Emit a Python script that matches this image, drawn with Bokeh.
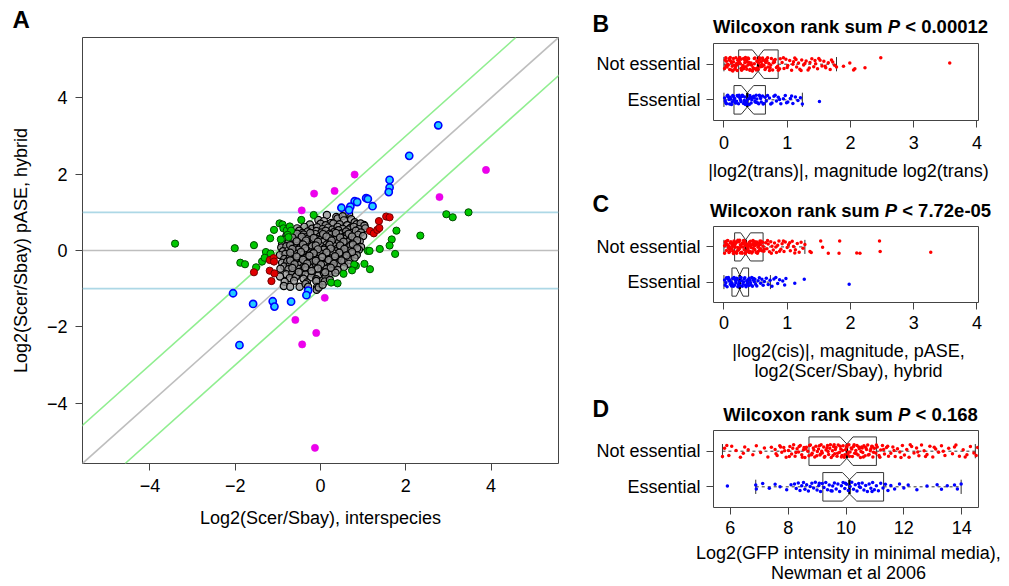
from bokeh.plotting import figure
from bokeh.layouts import row, column
from bokeh.models import Label, Slope, Span, FixedTicker, Range1d
from bokeh.embed import file_html
from bokeh.resources import INLINE

FONT = "Liberation Sans"

# ---------------- Panel A data: (interspecies log2, hybrid pASE log2) ----------------
gray_pts = [
    (0.15, 0.93), (0.37, 0.88), (0.40, 0.84), (0.67, 0.95), (0.57, 0.97), (0.52, 0.90),
    (-0.05, 0.80), (0.08, 0.77), (0.55, 0.79), (0.72, 0.82), (0.80, 0.74), (0.25, 0.72),
    (-0.25, 0.68), (0.00, 0.70), (0.12, 0.66), (0.30, 0.71), (0.45, 0.69), (0.62, 0.66),
    (0.85, 0.69), (0.95, 0.64), (1.02, 0.67), (0.70, 0.59), (0.94, 0.71), (1.03, 0.65),
    (-0.55, 0.58), (-0.38, 0.62), (-0.20, 0.57), (-0.08, 0.61), (0.05, 0.56), (0.18, 0.60),
    (0.28, 0.55), (0.40, 0.62), (0.52, 0.57), (0.66, 0.55), (0.78, 0.62), (0.90, 0.56),
    (1.05, 0.58), (-0.70, 0.48), (-0.50, 0.52), (-0.42, 0.46), (-0.30, 0.50), (-0.18, 0.45),
    (-0.10, 0.51), (0.02, 0.47), (0.12, 0.52), (0.22, 0.44), (0.33, 0.49), (0.42, 0.53),
    (0.50, 0.45), (0.60, 0.50), (0.72, 0.46), (0.83, 0.52), (0.95, 0.47), (-0.78, 0.52),
    (-0.80, 0.38), (-0.62, 0.41), (-0.52, 0.36), (-0.40, 0.42), (-0.33, 0.35), (-0.22, 0.39),
    (-0.12, 0.43), (-0.02, 0.37), (0.08, 0.40), (0.16, 0.34), (0.25, 0.41), (0.35, 0.37),
    (0.45, 0.43), (0.55, 0.36), (0.62, 0.40), (0.75, 0.35), (0.88, 0.41), (1.00, 0.38),
    (-0.85, 0.28), (-0.72, 0.31), (-0.60, 0.26), (-0.48, 0.32), (-0.40, 0.27), (-0.30, 0.30),
    (-0.20, 0.25), (-0.10, 0.31), (0.00, 0.28), (0.10, 0.24), (0.20, 0.32), (0.30, 0.27),
    (0.38, 0.30), (0.48, 0.25), (0.58, 0.31), (0.68, 0.27), (0.80, 0.29), (0.92, 0.24),
    (-0.90, 0.18), (-0.75, 0.21), (-0.65, 0.16), (-0.55, 0.22), (-0.45, 0.17), (-0.35, 0.20),
    (-0.26, 0.15), (-0.15, 0.21), (-0.05, 0.17), (0.05, 0.22), (0.15, 0.16), (0.25, 0.19),
    (0.33, 0.14), (0.43, 0.21), (0.52, 0.17), (0.62, 0.22), (0.72, 0.15), (0.85, 0.19),
    (-0.92, 0.08), (-0.80, 0.11), (-0.68, 0.06), (-0.58, 0.12), (-0.48, 0.07), (-0.40, 0.10),
    (-0.30, 0.05), (-0.20, 0.11), (-0.10, 0.07), (0.00, 0.12), (0.10, 0.06), (0.20, 0.09),
    (0.30, 0.13), (0.40, 0.05), (0.50, 0.10), (0.60, 0.07), (0.70, 0.12), (0.82, 0.06),
    (0.95, 0.09), (-0.88, -0.02), (-0.75, 0.01), (-0.62, -0.04), (-0.52, 0.02), (-0.42, -0.03),
    (-0.32, 0.00), (-0.22, -0.05), (-0.12, 0.01), (-0.02, -0.03), (0.08, 0.02), (0.18, -0.04),
    (0.28, 0.01), (0.38, -0.02), (0.48, 0.03), (0.58, -0.05), (0.70, 0.00), (0.80, -0.03),
    (0.90, 0.02), (-0.95, -0.12), (-0.82, -0.09), (-0.70, -0.14), (-0.60, -0.08), (-0.50, -0.13),
    (-0.40, -0.10), (-0.30, -0.15), (-0.20, -0.09), (-0.10, -0.12), (0.00, -0.08), (0.10, -0.14),
    (0.20, -0.11), (0.30, -0.07), (0.42, -0.13), (0.52, -0.10), (0.64, -0.15), (0.75, -0.09),
    (0.85, -0.12), (-0.85, -0.22), (-0.72, -0.19), (-0.62, -0.24), (-0.52, -0.18), (-0.44, -0.23),
    (-0.35, -0.20), (-0.25, -0.25), (-0.15, -0.19), (-0.05, -0.22), (0.05, -0.18), (0.15, -0.24),
    (0.25, -0.21), (0.36, -0.17), (0.46, -0.23), (0.58, -0.20), (0.68, -0.25), (0.80, -0.19),
    (-0.90, -0.32), (-0.78, -0.29), (-0.66, -0.34), (-0.55, -0.28), (-0.45, -0.33), (-0.36, -0.30),
    (-0.28, -0.35), (-0.18, -0.29), (-0.08, -0.32), (0.02, -0.28), (0.12, -0.34), (0.22, -0.31),
    (0.32, -0.27), (0.44, -0.33), (0.55, -0.30), (0.66, -0.35), (-0.85, -0.42), (-0.72, -0.39),
    (-0.60, -0.44), (-0.50, -0.38), (-0.40, -0.43), (-0.30, -0.40), (-0.20, -0.45), (-0.10, -0.39),
    (0.00, -0.42), (0.10, -0.38), (0.20, -0.44), (0.30, -0.41), (0.42, -0.37), (0.55, -0.43),
    (-0.94, -0.48), (-0.75, -0.49), (-0.62, -0.54), (-0.52, -0.48), (-0.42, -0.53), (-0.32, -0.50),
    (-0.22, -0.55), (-0.10, -0.49), (0.02, -0.52), (0.14, -0.48), (0.26, -0.54), (0.40, -0.51),
    (-0.80, -0.62), (-0.66, -0.59), (-0.55, -0.64), (-0.45, -0.58), (-0.35, -0.63), (-0.20, -0.60),
    (-0.05, -0.65), (0.08, -0.59), (0.20, -0.62), (0.35, -0.58), (-0.95, -0.68), (-0.72, -0.72),
    (-0.58, -0.69), (-0.40, -0.74), (-0.22, -0.70), (-0.10, -0.75), (0.06, -0.78), (0.12, -0.69),
    (-0.84, -0.82), (-0.62, -0.79), (-0.32, -0.84), (-0.10, -0.80), (0.10, -0.81), (0.22, -0.77),
    (-0.86, -0.93), (-0.71, -0.95), (-0.49, -0.95), (-0.35, -0.88), (-0.29, -0.95), (-0.08, -0.96),
    (-0.09, -1.03), (-0.04, -0.97), (0.05, -0.90),
    (-0.55, 0.44), (-0.24, 0.46), (0.06, 0.43), (0.36, 0.46), (0.66, 0.44), (-0.66, 0.34),
    (-0.44, 0.36), (-0.16, 0.33), (0.14, 0.37), (0.46, 0.34), (0.74, 0.37), (-0.56, 0.24),
    (-0.34, 0.26), (-0.06, 0.23), (0.26, 0.26), (0.54, 0.23), (0.86, 0.27), (-0.71, 0.14),
    (-0.41, 0.16), (-0.11, 0.13), (0.21, 0.15), (0.46, 0.13), (0.76, 0.16), (-0.66, 0.04),
    (-0.36, 0.06), (-0.06, 0.03), (0.24, 0.05), (0.56, 0.04), (0.86, 0.06), (-0.71, -0.06),
    (-0.46, -0.04), (-0.16, -0.07), (0.14, -0.05), (0.44, -0.06), (0.74, -0.04), (-0.56, -0.16),
    (-0.26, -0.14), (0.04, -0.17), (0.34, -0.15), (0.61, -0.13), (-0.71, -0.26), (-0.41, -0.24),
    (-0.11, -0.27), (0.19, -0.25), (0.49, -0.26), (-0.61, -0.36), (-0.31, -0.34), (0.01, -0.37),
    (0.31, -0.35), (-0.66, -0.46), (-0.36, -0.44), (-0.06, -0.47), (0.24, -0.45), (-0.51, -0.56),
    (-0.21, -0.54), (0.11, -0.57),
]
green_pts = [
    (-3.41, 0.18), (-2.01, 0.06), (-1.88, -0.32), (-1.77, -0.36), (-1.56, 0.14), (-1.51, -0.44),
    (-1.37, -0.29), (-1.28, -0.04), (-1.31, -0.19), (-1.17, -0.08), (-1.18, 0.32), (-1.09, 0.54),
    (-0.96, 0.71), (-0.89, 0.68), (-0.87, 0.58), (-0.93, 0.29), (-0.79, 0.53), (-0.72, 0.63),
    (-0.69, 0.52), (-0.77, 0.41), (-0.75, 0.35), (-0.45, 0.80), (-0.16, 0.93), (1.78, 0.52),
    (1.67, 0.29), (1.62, 0.13), (1.75, -0.09), (1.39, 0.04), (1.11, -0.01), (1.15, -0.01),
    (1.03, -0.35), (0.83, -0.40), (0.79, -0.37), (1.16, -0.49), (0.74, -0.52), (0.54, -0.61),
    (0.25, -0.84), (0.40, -0.86), (2.34, 0.39), (2.95, 0.95), (3.10, 0.87), (3.47, 1.00),
]
red_pts = [
    (1.16, 0.51), (1.25, 0.45), (1.33, 0.54), (1.38, 0.59), (1.37, 0.77), (1.54, 0.89),
    (1.62, 0.87), (-1.19, -0.25), (-1.10, -0.20), (-1.09, -0.29), (-1.19, -0.53), (-1.08, -0.60),
    (-1.15, -0.80), (-1.56, -0.57),
]
blue_pts = [
    (2.76, 3.28), (2.08, 2.48), (1.62, 1.85), (1.62, 1.65), (1.60, 1.53), (1.07, 1.37),
    (1.11, 1.35), (0.80, 1.29), (0.86, 1.27), (1.22, 1.16), (0.49, 1.12), (0.70, 1.15),
    (0.67, 1.06), (-2.05, -1.12), (-1.58, -1.40), (-1.12, -1.33), (-1.08, -1.47), (-0.69, -1.34),
    (-0.29, -1.05), (-0.33, -1.17), (-1.90, -2.48),
]
magenta_pts = [
    (0.80, 1.99), (-0.15, 1.49), (0.33, 1.56), (-0.44, 1.05), (3.88, 2.11), (2.79, 1.40),
    (0.10, -1.24), (-0.59, -1.82), (-0.10, -2.16), (-0.43, -2.46), (-0.13, -5.17),
]
A_ticks = [-4, -2, 0, 2, 4]
A_tick_labels = ["\u22124", "\u22122", "0", "2", "4"]
A_xlabel = "Log2(Scer/Sbay), interspecies"
A_ylabel = "Log2(Scer/Sbay) pASE, hybrid"

# ---------------- Panels B-D: (value, vertical jitter) ----------------
B_not_ess = [
    (0.02, 0.12), (0.05, -0.08), (0.03, 0.18), (0.09, -0.15), (0.12, 0.04), (0.07, -0.02), (0.15, 0.16),
    (0.18, -0.11), (0.11, 0.09), (0.21, -0.18), (0.24, 0.07), (0.19, -0.05), (0.27, 0.14), (0.31, -0.13),
    (0.26, 0.01), (0.34, 0.19), (0.29, -0.09), (0.37, 0.06), (0.41, -0.17), (0.33, 0.11), (0.44, -0.03),
    (0.39, 0.15), (0.47, -0.12), (0.52, 0.08), (0.45, -0.19), (0.55, 0.03), (0.49, 0.17), (0.58, -0.07),
    (0.62, 0.12), (0.54, -0.14), (0.66, 0.05), (0.60, -0.01), (0.69, 0.18), (0.73, -0.10), (0.64, 0.10),
    (0.77, -0.16), (0.71, 0.02), (0.81, 0.13), (0.85, -0.06), (0.75, 0.16), (0.88, -0.13), (0.06, 0.00),
    (0.14, -0.19), (0.22, 0.11), (0.30, -0.04), (0.38, 0.17), (0.46, -0.10), (0.04, 0.08), (0.17, -0.14),
    (0.25, 0.19), (0.35, -0.07), (0.43, 0.03), (0.51, -0.16), (0.57, 0.14), (0.63, -0.03), (0.68, 0.09),
    (0.72, -0.18), (0.80, 0.06), (0.83, -0.09), (0.01, -0.12), (0.08, 0.15), (0.13, -0.06), (0.20, 0.02),
    (0.28, -0.17), (0.36, 0.12), (0.42, -0.01), (0.48, 0.16), (0.53, -0.11), (0.59, 0.07), (0.65, -0.15),
    (0.10, 0.19), (0.16, -0.03), (0.23, 0.13), (0.32, -0.08), (0.40, 0.05), (0.50, -0.13), (0.56, 0.18),
    (0.61, -0.06), (0.67, 0.14), (0.74, -0.02), (0.79, 0.10), (0.86, -0.17), (0.03, -0.05), (0.19, 0.18),
    (0.27, -0.12), (0.33, 0.04), (0.45, -0.18), (0.53, 0.09), (0.61, 0.17), (0.70, -0.08), (0.12, -0.16),
    (0.24, 0.06), (0.36, -0.14), (0.48, 0.01), (0.58, -0.04), (0.09, 0.11), (0.21, -0.01), (0.31, 0.16),
    (0.41, -0.15), (0.55, 0.12), (0.66, -0.11), (0.78, 0.04), (0.89, 0.15), (0.15, 0.07), (0.38, -0.02),
    (0.92, 0.05), (0.95, -0.12), (0.98, 0.14), (1.01, -0.04), (1.04, 0.10), (1.07, -0.17), (1.10, 0.07),
    (1.12, 0.17), (1.15, -0.08), (1.18, 0.03), (1.20, -0.14), (1.23, 0.12), (1.26, -0.02), (1.30, 0.09),
    (1.33, -0.16), (1.36, 0.05), (1.39, 0.15), (1.42, -0.07), (1.45, 0.01), (1.48, -0.13), (1.52, 0.11),
    (1.55, -0.05), (1.58, 0.08), (1.61, -0.10), (1.65, 0.04), (1.68, -0.15), (1.72, 0.06), (1.75, -0.03),
    (0.94, 0.18), (1.00, -0.09), (1.09, 0.00), (1.14, 0.13), (1.22, -0.18), (1.28, 0.02), (1.35, -0.11),
    (1.44, 0.10), (1.50, 0.16), (1.60, -0.06), (1.70, 0.12), (1.78, -0.08), (1.89, -0.06), (1.99, 0.03),
    (2.05, -0.16), (2.07, -0.13), (2.23, -0.10), (2.48, 0.18), (3.57, 0.03),
]
B_ess = [
    (0.01, 0.05), (0.03, -0.08), (0.05, 0.11), (0.02, -0.03), (0.07, 0.08), (0.09, -0.12), (0.11, 0.02),
    (0.06, 0.13), (0.13, -0.06), (0.15, 0.09), (0.12, -0.13), (0.17, 0.04), (0.19, -0.09), (0.21, 0.12),
    (0.16, -0.01), (0.23, -0.11), (0.25, 0.06), (0.22, 0.10), (0.27, -0.05), (0.29, 0.13), (0.31, -0.10),
    (0.26, 0.01), (0.33, 0.08), (0.35, -0.07), (0.30, 0.11), (0.37, -0.12), (0.39, 0.03), (0.41, 0.12),
    (0.36, -0.02), (0.43, -0.09), (0.45, 0.07), (0.40, -0.13), (0.47, 0.10), (0.49, -0.04), (0.44, 0.00),
    (0.51, 0.13), (0.53, -0.08), (0.48, 0.05), (0.55, -0.11), (0.57, 0.09), (0.52, 0.02), (0.59, -0.06),
    (0.61, 0.11), (0.63, -0.10), (0.58, 0.04), (0.65, 0.07), (0.67, -0.03), (0.62, -0.12), (0.69, 0.12),
    (0.08, 0.01), (0.14, 0.12), (0.20, -0.04), (0.28, 0.09), (0.34, -0.13), (0.42, 0.06), (0.50, -0.07),
    (0.56, 0.13), (0.04, -0.11), (0.10, 0.07), (0.18, -0.08), (0.24, 0.13), (0.32, -0.02), (0.72, 0.05),
    (0.76, -0.09), (0.79, 0.10), (0.83, -0.03), (0.86, 0.07), (0.90, -0.11), (0.94, 0.03), (0.97, 0.12),
    (1.01, -0.06), (1.05, 0.04), (1.09, -0.10), (1.13, 0.08), (1.17, -0.02), (1.21, 0.06), (1.24, -0.12),
    (0.74, -0.12), (0.81, 0.13), (0.88, 0.01), (0.99, -0.08), (1.07, 0.11), (1.51, -0.05),
]
C_not_ess = [
    (0.02, 0.14), (0.04, -0.10), (0.01, 0.03), (0.06, 0.18), (0.08, -0.16), (0.05, 0.07), (0.10, -0.04),
    (0.12, 0.12), (0.09, -0.13), (0.14, 0.01), (0.16, 0.17), (0.13, -0.07), (0.18, 0.09), (0.20, -0.18),
    (0.17, 0.04), (0.22, -0.02), (0.24, 0.15), (0.21, -0.11), (0.26, 0.06), (0.28, -0.15), (0.25, 0.19),
    (0.30, 0.00), (0.32, -0.08), (0.29, 0.11), (0.34, -0.19), (0.36, 0.08), (0.33, 0.16), (0.38, -0.05),
    (0.40, 0.13), (0.37, -0.12), (0.42, 0.02), (0.44, -0.17), (0.41, 0.10), (0.46, 0.18), (0.48, -0.06),
    (0.45, -0.14), (0.50, 0.05), (0.52, 0.14), (0.49, -0.09), (0.54, -0.01), (0.56, 0.11), (0.53, -0.18),
    (0.58, 0.07), (0.60, -0.11), (0.57, 0.17), (0.62, 0.02), (0.64, -0.07), (0.03, 0.09), (0.07, -0.03),
    (0.11, 0.15), (0.15, -0.19), (0.19, 0.13), (0.23, -0.09), (0.27, 0.01), (0.31, 0.18), (0.35, -0.14),
    (0.39, 0.05), (0.43, -0.02), (0.47, 0.12), (0.51, -0.16), (0.55, 0.03), (0.59, 0.16), (0.63, -0.12),
    (0.01, -0.18), (0.06, 0.05), (0.10, 0.11), (0.14, -0.12), (0.18, -0.01), (0.22, 0.19), (0.26, -0.17),
    (0.30, 0.09), (0.34, 0.04), (0.38, -0.10), (0.42, 0.16), (0.46, -0.04), (0.50, 0.08), (0.54, -0.13),
    (0.58, -0.05), (0.61, 0.13), (0.04, 0.16), (0.09, -0.07), (0.13, 0.06), (0.17, -0.15), (0.21, 0.14),
    (0.25, -0.04), (0.29, -0.18), (0.33, 0.12), (0.37, 0.00), (0.41, -0.13), (0.45, 0.07), (0.49, 0.15),
    (0.53, 0.10), (0.57, -0.08), (0.08, 0.02), (0.16, 0.10), (0.24, -0.06), (0.32, 0.14), (0.40, -0.16),
    (0.48, 0.03), (0.56, -0.10), (0.66, 0.12), (0.68, -0.05), (0.70, 0.08), (0.72, -0.14), (0.74, 0.15),
    (0.76, 0.02), (0.78, -0.09), (0.80, 0.11), (0.83, -0.16), (0.85, 0.05), (0.87, 0.17), (0.90, -0.07),
    (0.92, 0.09), (0.95, -0.13), (0.97, 0.14), (1.00, -0.02), (1.02, 0.06), (1.05, -0.11), (1.08, 0.16),
    (1.10, 0.01), (1.13, -0.08), (1.16, 0.10), (1.19, -0.15), (1.22, 0.13), (1.25, -0.04), (1.28, 0.07),
    (0.69, 0.18), (0.75, -0.18), (0.82, 0.00), (0.88, -0.12), (0.94, 0.17), (1.04, 0.12), (1.12, -0.17),
    (1.36, -0.13), (1.38, -0.16), (1.53, 0.17), (1.56, -0.01), (1.65, -0.18), (1.83, 0.17), (1.82, -0.18),
    (2.10, -0.17), (2.15, -0.18), (2.46, 0.17), (2.47, -0.13), (3.27, -0.15),
]
C_ess = [
    (0.01, 0.06), (0.02, -0.09), (0.04, 0.12), (0.03, -0.02), (0.06, 0.09), (0.05, -0.13), (0.08, 0.03),
    (0.07, 0.13), (0.10, -0.06), (0.09, 0.07), (0.12, -0.11), (0.11, 0.01), (0.14, 0.10), (0.13, -0.04),
    (0.16, 0.13), (0.15, -0.12), (0.18, 0.05), (0.17, -0.08), (0.20, 0.11), (0.19, -0.01), (0.22, -0.13),
    (0.21, 0.08), (0.24, 0.02), (0.23, -0.07), (0.26, 0.12), (0.25, -0.10), (0.28, 0.04), (0.27, 0.13),
    (0.30, -0.05), (0.29, -0.12), (0.32, 0.09), (0.31, 0.00), (0.34, -0.09), (0.33, 0.12), (0.36, 0.03),
    (0.35, -0.13), (0.38, 0.07), (0.37, -0.03), (0.40, 0.11), (0.39, -0.10), (0.42, -0.02), (0.41, 0.05),
    (0.44, 0.13), (0.43, -0.08), (0.46, 0.06), (0.45, -0.12), (0.48, 0.01), (0.47, 0.10), (0.50, -0.06),
    (0.49, 0.08), (0.52, -0.11), (0.54, 0.04), (0.56, 0.12), (0.58, -0.03), (0.60, 0.08), (0.62, -0.09),
    (0.64, 0.02), (0.67, 0.11), (0.70, -0.07), (0.73, 0.05), (0.76, -0.12), (0.79, 0.09), (0.82, 0.13),
    (0.85, -0.04), (0.88, 0.07), (0.93, 0.03), (0.96, -0.08), (0.98, 0.10), (1.12, -0.03),
    (1.27, 0.08), (1.98, -0.06),
]
D_not_ess = [
    (5.73, -0.15), (5.80, 0.08), (5.95, -0.12), (6.05, 0.14), (6.20, 0.02), (6.35, -0.17), (6.50, 0.12),
    (6.62, 0.04), (6.78, -0.10), (6.90, 0.15), (7.05, -0.04), (7.18, 0.09), (7.30, -0.16), (7.42, 0.11),
    (5.88, 0.16), (6.45, -0.06), (7.55, 0.05), (7.62, -0.12), (7.71, 0.15), (7.78, -0.03), (7.85, 0.10),
    (7.93, -0.17), (8.01, 0.02), (8.06, 0.13), (8.12, -0.08), (8.19, 0.18), (8.24, -0.14), (8.31, 0.07),
    (8.36, -0.02), (8.42, 0.16), (8.47, -0.10), (8.53, 0.04), (8.58, -0.18), (8.63, 0.11), (8.68, 0.00),
    (8.72, -0.13), (8.77, 0.17), (8.83, -0.06), (8.87, 0.09), (8.92, -0.16), (8.96, 0.14), (9.01, -0.01),
    (9.05, 0.06), (9.10, -0.11), (9.14, 0.18), (9.18, -0.05), (9.23, 0.12), (9.27, -0.15), (9.31, 0.03),
    (9.36, 0.16), (9.40, -0.09), (9.44, 0.08), (9.49, -0.18), (9.53, 0.01), (9.57, 0.13), (9.61, -0.07),
    (9.65, 0.10), (9.69, -0.14), (9.73, 0.17), (9.78, -0.03), (9.82, 0.06), (9.86, -0.12), (9.90, 0.15),
    (9.94, -0.17), (9.98, 0.04), (10.02, 0.11), (10.06, -0.08), (10.10, 0.18), (10.14, -0.02), (10.18, 0.09),
    (10.22, -0.15), (10.26, 0.13), (10.30, -0.06), (10.34, 0.02), (10.38, 0.16), (10.42, -0.11), (10.46, 0.07),
    (10.50, -0.18), (10.54, 0.12), (10.58, -0.04), (10.62, 0.15), (10.66, -0.13), (10.71, 0.05), (10.75, 0.17),
    (10.80, -0.09), (10.84, 0.01), (10.89, 0.14), (10.93, -0.16), (10.98, 0.08), (11.03, -0.05), (11.08, 0.12),
    (11.14, -0.12), (11.20, 0.03), (11.26, 0.16), (11.33, -0.08), (11.40, 0.10), (11.47, -0.14), (7.58, -0.07),
    (7.74, 0.12), (7.88, 0.01), (8.04, -0.15), (8.16, 0.08), (8.27, -0.04), (8.38, 0.13), (8.49, -0.17),
    (8.61, 0.06), (8.74, 0.16), (8.81, -0.10), (8.89, 0.03), (8.99, -0.13), (9.08, 0.15), (9.16, 0.00),
    (9.25, -0.17), (9.34, 0.09), (9.46, 0.18), (9.55, -0.12), (9.63, 0.05), (9.71, -0.06), (9.80, 0.14),
    (9.88, 0.02), (9.96, -0.10), (10.04, 0.16), (10.12, -0.14), (10.20, 0.06), (10.28, 0.18), (10.36, -0.07),
    (10.44, 0.12), (10.52, -0.01), (10.60, -0.16), (10.68, 0.10), (10.77, -0.11), (10.86, 0.07), (10.95, -0.03),
    (11.05, 0.17), (11.17, -0.17), (11.30, 0.05), (11.44, 0.14), (8.55, 0.10), (9.12, -0.08), (9.59, 0.18),
    (10.08, -0.03), (10.56, 0.09), (10.91, 0.13), (9.38, -0.01), (9.84, -0.16), (11.55, -0.06), (11.62, 0.12),
    (11.70, -0.15), (11.78, 0.07), (11.86, -0.02), (11.95, 0.16), (12.02, -0.11), (12.10, 0.05), (12.18, -0.17),
    (12.27, 0.13), (12.35, -0.05), (12.44, 0.09), (12.52, -0.13), (12.61, 0.17), (12.70, 0.01), (12.80, -0.09),
    (12.90, 0.14), (13.00, -0.16), (13.10, 0.06), (13.20, -0.03), (13.30, 0.15), (13.42, -0.12), (13.55, 0.08),
    (13.68, -0.07), (13.80, 0.17), (13.92, -0.14), (14.05, 0.04), (14.18, -0.10), (14.30, 0.13), (14.42, -0.05),
    (14.55, 0.10), (11.66, 0.02), (11.90, -0.18), (12.22, 0.18), (12.48, -0.02), (12.75, -0.15), (13.05, 0.11),
    (13.36, 0.00), (13.75, 0.12), (14.12, -0.16), (14.50, -0.12),
]
D_ess = [
    (5.90, 0.02), (6.88, 0.05), (6.90, -0.06), (7.12, 0.09), (7.35, -0.04), (7.55, 0.07), (7.72, 0.00),
    (7.95, -0.08), (8.10, 0.06), (8.22, 0.08), (8.28, -0.05), (8.35, 0.11), (8.41, -0.10), (8.47, 0.03),
    (8.53, 0.12), (8.58, -0.07), (8.64, 0.06), (8.70, -0.12), (8.76, 0.01), (8.82, 0.10), (8.88, -0.03),
    (8.94, 0.13), (9.00, -0.09), (9.06, 0.04), (9.12, -0.13), (9.18, 0.09), (9.24, -0.02), (9.30, 0.12),
    (9.36, -0.08), (9.42, 0.05), (9.48, -0.11), (9.54, 0.02), (9.60, 0.11), (9.66, -0.06), (9.72, 0.08),
    (9.78, -0.13), (9.84, 0.03), (9.90, 0.12), (9.96, -0.05), (10.02, 0.07), (10.08, -0.10), (10.14, 0.01),
    (10.20, 0.13), (10.26, -0.07), (10.32, 0.06), (10.38, -0.12), (10.44, 0.09), (10.50, -0.02), (10.56, 0.11),
    (10.62, -0.09), (10.68, 0.04), (10.74, -0.13), (10.80, 0.08), (10.86, -0.04), (10.92, 0.12), (10.98, -0.08),
    (11.05, 0.03), (11.12, -0.11), (11.20, 0.10), (11.28, -0.03), (11.36, 0.07), (11.45, -0.10), (9.08, 0.10),
    (9.52, -0.12), (9.98, 0.10), (10.46, 0.00), (10.90, -0.13), (11.55, 0.04), (11.68, -0.06), (11.85, 0.08),
    (12.00, -0.03), (12.15, 0.05), (12.45, -0.08), (12.80, 0.02), (13.15, 0.06), (13.30, -0.07), (13.50, 0.03),
    (13.75, 0.05), (13.85, -0.06), (13.98, 0.08),
]
# box statistics: lower whisker, Q1, notch low, median, notch high, Q3, upper whisker
B_box_not = [0.0, 0.233, 0.45, 0.54, 0.63, 0.857, 1.78]
B_box_ess = [0.0, 0.159, 0.275, 0.37, 0.47, 0.656, 1.24]
C_box_not = [0.0, 0.169, 0.265, 0.344, 0.42, 0.619, 1.28]
C_box_ess = [0.0, 0.127, 0.196, 0.249, 0.302, 0.39, 0.735]
D_box_not = [5.73, 8.72, 9.80, 10.03, 10.24, 11.05, 14.47]
D_box_ess = [6.88, 9.20, 9.88, 10.12, 10.37, 11.30, 13.98]
categories = ["Essential", "Not essential"]
B_pvalue = "0.00012"
C_pvalue = "7.72e-05"
D_pvalue = "0.168"
BC_ticks = [0, 1, 2, 3, 4]
D_ticks = [6, 8, 10, 12, 14]
B_xlabel = ["|log2(trans)|, magnitude log2(trans)"]
C_xlabel = ["|log2(cis)|, magnitude, pASE,", "log2(Scer/Sbay), hybrid"]
D_xlabel = ["Log2(GFP intensity in minimal media),", "Newman et al 2006"]

# ---------------- helpers ----------------
W_BOLD = {' ': 278, 'W': 944, 'i': 278, 'l': 278, 'c': 556, 'o': 611, 'x': 556, 'n': 611, 'r': 389,
          'a': 556, 'k': 556, 's': 556, 'u': 611, 'm': 889, 'P': 667, '<': 584, '.': 278, 'e': 556, '-': 333}
TEXT_DY = -8  # empirical correction of label baseline in the text strips


def bold_width(s, size):
    return sum(W_BOLD.get(ch, 556) for ch in s) / 1000.0 * size


def style_axes(p, size="18px"):
    for ax in (p.xaxis[0], p.yaxis[0]):
        ax.axis_line_color = None
        ax.major_tick_line_color = "#444444"
        ax.major_tick_out = 7
        ax.major_tick_in = 0
        ax.minor_tick_line_color = None
        ax.major_label_text_font = FONT
        ax.major_label_text_font_size = size
        ax.major_label_text_color = "black"
        ax.axis_label_text_font = FONT
        ax.axis_label_text_font_size = size
        ax.axis_label_text_font_style = "normal"
        ax.axis_label_text_color = "black"
    p.xgrid.visible = False
    p.ygrid.visible = False
    p.outline_line_color = "#444444"
    p.outline_line_width = 1
    p.background_fill_color = "white"
    p.border_fill_color = "white"


def text_fig(left, top, width, height):
    """A blank strip whose data coordinates are page pixels (y downward)."""
    p = figure(width=width, height=height, x_range=Range1d(left, left + width),
               y_range=Range1d(top + height, top), x_axis_type=None, y_axis_type=None,
               output_backend="svg", toolbar_location=None, min_border=0)
    p.frame_align = False
    p.outline_line_color = None
    p.xgrid.visible = False
    p.ygrid.visible = False
    return p


def add_text(p, px, py, text, size, style="normal", align="left"):
    p.add_layout(Label(x=px, y=py + TEXT_DY, text=text, text_font=FONT, text_font_size="%.1fpx" % size,
                       text_font_style=style, text_align=align, text_baseline="alphabetic",
                       text_color="black"))


def add_title(p, center, base, pval, size=18.5):
    sp = bold_width(" ", size)
    t1, t2, t3 = "Wilcoxon rank sum", "P", "< " + pval
    total = bold_width(t1, size) + sp + bold_width(t2, size) + sp + bold_width(t3, size)
    x0 = center - total / 2
    add_text(p, x0, base, t1, size, "bold")
    x1 = x0 + bold_width(t1, size) + sp
    add_text(p, x1, base, t2, size, "bold italic")
    x2 = x1 + bold_width(t2, size) + sp
    add_text(p, x2, base, t3, size, "bold")


# ---------------- Panel A ----------------
AX = (-5.58, 5.58)
AY = (-5.58, 5.58)
tA = text_fig(0, 0, 580, 37)
add_text(tA, 12, 27, "A", 24, "bold")

pA = figure(width=580, height=547, x_range=AX, y_range=AY, output_backend="svg",
            toolbar_location=None, min_border_left=82, min_border_right=22,
            min_border_top=0, min_border_bottom=121)
style_axes(pA)
pA.xaxis.ticker = FixedTicker(ticks=A_ticks)
pA.yaxis.ticker = FixedTicker(ticks=A_ticks)
pA.xaxis.major_label_overrides = dict(zip(A_ticks, A_tick_labels))
pA.yaxis.major_label_overrides = dict(zip(A_ticks, A_tick_labels))
pA.xaxis.major_label_standoff = 8
pA.yaxis.major_label_standoff = 8
pA.xaxis.axis_label = A_xlabel
pA.yaxis.axis_label = A_ylabel
pA.xaxis.axis_label_standoff = 13
pA.yaxis.axis_label_standoff = 13

pA.add_layout(Span(location=0, dimension="width", line_color="#bebebe", line_width=1.6, level="underlay"))
pA.add_layout(Span(location=1, dimension="width", line_color="#add8e6", line_width=1.6, level="underlay"))
pA.add_layout(Span(location=-1, dimension="width", line_color="#add8e6", line_width=1.6, level="underlay"))
pA.add_layout(Slope(gradient=1, y_intercept=0, line_color="#bebebe", line_width=1.6, level="underlay"))
pA.add_layout(Slope(gradient=1, y_intercept=1, line_color="#90ee90", line_width=1.6, level="underlay"))
pA.add_layout(Slope(gradient=1, y_intercept=-1, line_color="#90ee90", line_width=1.6, level="underlay"))


def pts(p, data, fill, line, lw=1.0, size=7.2, alpha=1.0):
    p.scatter([d[0] for d in data], [d[1] for d in data], marker="circle", size=size,
              fill_color=fill, fill_alpha=alpha, line_color=line, line_width=lw)


pts(pA, gray_pts, "#969696", "#000000", 1.2, alpha=0.8)
pts(pA, green_pts, "#00c800", "#004d00", 1.0)
pts(pA, red_pts, "#e00000", "#700000", 1.0)
pts(pA, blue_pts, "#22ccff", "#0000ff", 1.6)
pts(pA, magenta_pts, "#ee00ee", "#e000e0", 0.6)

# ---------------- Panels B-D ----------------
YR = (0.42, 2.58)
RIGHT_X = 580
RIGHT_W = 428


def strip_panel(height, bottom, xr, ticks, box_not, box_ess, not_pts, ess_pts, tick_standoff):
    p = figure(width=RIGHT_W, height=height, x_range=xr, y_range=YR, output_backend="svg",
               toolbar_location=None, min_border_left=133, min_border_right=30,
               min_border_top=0, min_border_bottom=bottom)
    style_axes(p)
    p.xaxis.ticker = FixedTicker(ticks=ticks)
    p.yaxis.ticker = FixedTicker(ticks=[1, 2])
    p.yaxis.major_label_overrides = {1: categories[0], 2: categories[1]}
    p.yaxis.major_label_standoff = 6
    p.xaxis.major_label_standoff = tick_standoff
    for pos, st in ((2, box_not), (1, box_ess)):
        lo, q1, clo, med, chi, q3, hi = st
        h = 0.4
        xs = [q1, clo, med, chi, q3, q3, chi, med, clo, q1]
        ys = [pos + h, pos + h, pos + h / 2, pos + h, pos + h, pos - h, pos - h, pos - h / 2, pos - h, pos - h]
        p.patch(xs, ys, fill_alpha=0, line_color="#333333", line_width=1)
        p.segment(x0=[q3, lo], y0=[pos, pos], x1=[hi, q1], y1=[pos, pos], line_dash="3 3",
                  line_color="#333333", line_width=1)
        p.segment(x0=[lo, hi], y0=[pos - 0.2, pos - 0.2], x1=[lo, hi], y1=[pos + 0.2, pos + 0.2],
                  line_color="#333333", line_width=1)
        p.segment(x0=[med], y0=[pos - h / 2], x1=[med], y1=[pos + h / 2], line_color="black", line_width=2.5)
    p.scatter([d[0] for d in not_pts], [2 + d[1] for d in not_pts], marker="circle", size=3.5,
              fill_color="#ff0000", line_color=None)
    p.scatter([d[0] for d in ess_pts], [1 + d[1] for d in ess_pts], marker="circle", size=3.5,
              fill_color="#0000ff", line_color=None)
    return p


# strips of text, in page coordinates
tB = text_fig(RIGHT_X, 0, RIGHT_W, 43)
add_text(tB, 592, 31.5, "B", 23, "bold")
add_title(tB, 850, 33.5, B_pvalue)

pB = strip_panel(117, 40, (-0.165, 4.025), BC_ticks, B_box_not, B_box_ess, B_not_ess, B_ess, 8)

t2 = text_fig(RIGHT_X, 160, RIGHT_W, 66)
add_text(t2, 848, 178, B_xlabel[0], 18, "normal", "center")
add_text(t2, 592, 211, "C", 23, "bold")
add_title(t2, 850, 217.5, C_pvalue)

pC = strip_panel(112, 36, (-0.165, 4.025), BC_ticks, C_box_not, C_box_ess, C_not_ess, C_ess, 6)

t3 = text_fig(RIGHT_X, 338, RIGHT_W, 92)
add_text(t3, 848, 358.5, C_xlabel[0], 18, "normal", "center")
add_text(t3, 848, 378, C_xlabel[1], 18, "normal", "center")
add_text(t3, 592, 416.5, "D", 23, "bold")
add_title(t3, 850, 421.5, D_pvalue)

pD = strip_panel(111, 34, (5.42, 14.58), D_ticks, D_box_not, D_box_ess, D_not_ess, D_ess, 6)

t4 = text_fig(RIGHT_X, 541, RIGHT_W, 43)
add_text(t4, 848, 560, D_xlabel[0], 18, "normal", "center")
add_text(t4, 848, 580.5, D_xlabel[1], 18, "normal", "center")

layout = row(column(tA, pA), column(tB, pB, t2, pC, t3, pD, t4))
open("out.html", "w").write(file_html(layout, INLINE))
